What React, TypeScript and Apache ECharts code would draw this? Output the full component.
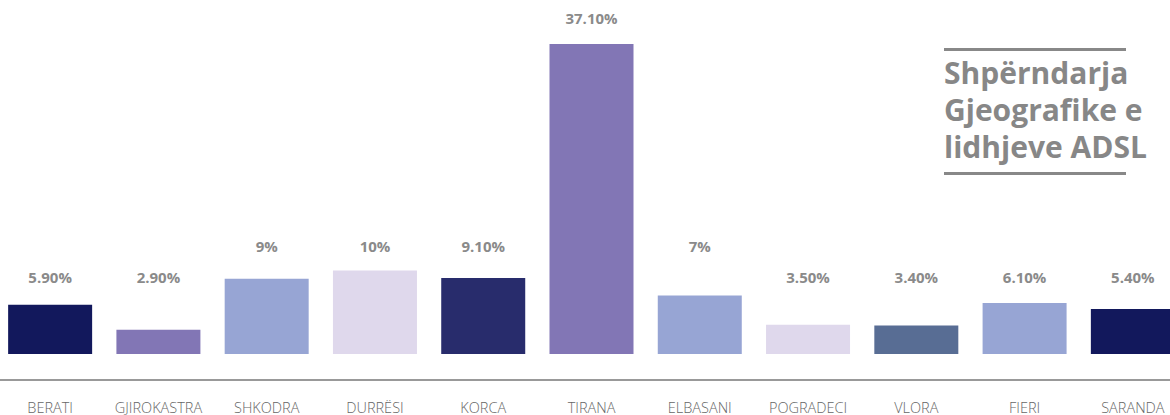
import React, { useEffect, useRef } from "react";
import * as echarts from "echarts";

const categories = ["BERATI", "GJIROKASTRA", "SHKODRA", "DURRËSI", "KORCA", "TIRANA", "ELBASANI", "POGRADECI", "VLORA", "FIERI", "SARANDA"];
const values = [5.9, 2.9, 9, 10, 9.1, 37.1, 7, 3.5, 3.4, 6.1, 5.4];
const valueLabels = ["5.90%", "2.90%", "9%", "10%", "9.10%", "37.10%", "7%", "3.50%", "3.40%", "6.10%", "5.40%"];
const barColors = ["#12185c", "#8276b5", "#97a5d4", "#dfd8ec", "#282c6c", "#8276b5", "#97a5d4", "#dfd8ec", "#586d94", "#97a5d4", "#12185c"];
const titleLines = ["Shpërndarja", "Gjeografike e", "lidhjeve ADSL"];

export default function App() {
  const ref = useRef<HTMLDivElement>(null);
  useEffect(() => {
    if (!ref.current) return;
    const chart = echarts.init(ref.current, null, { renderer: "svg" });
    const pxPerUnit = 310 / 37.1;
    const labelLevel = (v: number) => (v < 7 ? 8.3 : v <= 10.5 ? 12.05 : v + 2.25);
    chart.setOption({
      animation: false,
      grid: { left: 0, right: 0, top: 0, bottom: 35, containLabel: false },
      xAxis: {
        type: "category",
        data: categories,
        axisLine: { onZero: false, lineStyle: { color: "#999999", width: 2 } },
        axisTick: { show: false },
        axisLabel: { interval: 0, color: "#666666", fontSize: 14.5, fontFamily: "Open Sans", fontWeight: 300, margin: 20 },
      },
      yAxis: {
        type: "value",
        min: -3.11,
        max: 42.37,
        show: false,
        splitLine: { show: false },
      },
      series: [
        {
          type: "bar",
          barWidth: 84,
          data: values.map((v, i) => ({
            value: v,
            itemStyle: { color: barColors[i] },
            label: {
              show: true,
              position: "top",
              distance: 0,
              offset: [0, -(labelLevel(v) - v) * pxPerUnit],
              formatter: valueLabels[i],
              color: "#8a8a8a",
              fontSize: 15,
              fontWeight: "bold",
              fontFamily: "Open Sans",
            },
          })),
        },
      ],
      graphic: [
        { type: "rect", shape: { x: 948, y: 48, width: 182, height: 3 }, style: { fill: "#888888" } },
        { type: "rect", shape: { x: 948, y: 172, width: 182, height: 3 }, style: { fill: "#888888" } },
        ...titleLines.map((t, i) => ({
          type: "text",
          x: 948,
          y: 72 + i * 37,
          style: {
            text: t,
            fill: "#878787",
            font: "bold 30px 'Open Sans'",
            textVerticalAlign: "middle",
            textAlign: "left",
          },
        })),
      ],
    });
    return () => chart.dispose();
  }, []);
  return (
    <div style={{ position: "absolute", left: 0, top: 0, width: 1170, height: 415, overflow: "hidden" }}>
      <div ref={ref} style={{ position: "absolute", left: -4, top: 0, width: 1191, height: 415 }} />
    </div>
  );
}
